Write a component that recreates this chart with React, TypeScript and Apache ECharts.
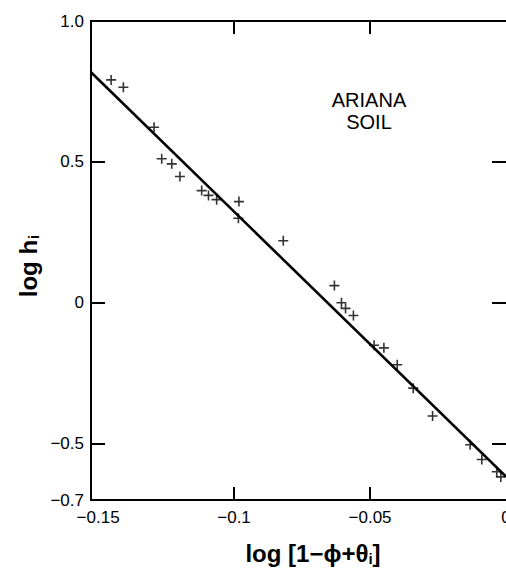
import React, { useEffect, useRef } from "react";
import * as echarts from "echarts";

const xTickLabels = [-0.15, -0.1, -0.05, 0];
const xTicks = [-0.1, -0.05];
const yTickLabels = [-0.7, -0.5, 0, 0.5, 1.0];
const yTicks = [-0.5, 0, 0.5];

const obsX = [-0.1452, -0.1407, -0.1294, -0.1266, -0.1229, -0.1199, -0.1119, -0.1094, -0.1064, -0.0982, -0.0984, -0.0819, -0.0631, -0.0605, -0.059, -0.0561, -0.0485, -0.0449, -0.04, -0.0341, -0.027, -0.0132, -0.0089, -0.0034, -0.0019];
const obsY = [0.791, 0.765, 0.623, 0.511, 0.493, 0.448, 0.398, 0.381, 0.366, 0.359, 0.3, 0.22, 0.061, 0.0, -0.02, -0.045, -0.151, -0.16, -0.22, -0.303, -0.402, -0.504, -0.556, -0.6, -0.618];

const fitX = [-0.1526, 0];
const fitY = [0.818, -0.617];

const FONT = "'Liberation Sans', Arial, sans-serif";

const fmtX = (v: number) => {
  if (Math.abs(v) < 1e-9) return "0";
  const s = Math.abs(v + 0.1) < 1e-9 ? "0.1" : Math.abs(v).toString();
  return "\u2212" + s;
};
const fmtY = (v: number) => {
  if (Math.abs(v) < 1e-9) return "0";
  if (Math.abs(v - 1) < 1e-9) return "1.0";
  return (v < 0 ? "\u2212" : "") + Math.abs(v).toString();
};

const mkX = (pos: string, showLabel: boolean) => ({
  type: "value",
  min: -0.1526,
  max: 0,
  position: pos,
  axisLine: { show: true, onZero: false, lineStyle: { color: "#000", width: 2 } },
  axisTick: { show: true, inside: true, length: 13, customValues: xTicks, lineStyle: { color: "#000", width: 2 } },
  axisLabel: showLabel
    ? { show: true, customValues: xTickLabels, formatter: fmtX, color: "#000", fontSize: 17, fontFamily: FONT, margin: 9 }
    : { show: false },
  splitLine: { show: false },
});
const mkY = (pos: string, showLabel: boolean) => ({
  type: "value",
  min: -0.7,
  max: 1.0,
  position: pos,
  axisLine: { show: showLabel, onZero: false, lineStyle: { color: "#000", width: 2 } },
  axisTick: { show: true, inside: true, length: 14, customValues: yTicks, lineStyle: { color: "#000", width: 2 } },
  axisLabel: showLabel
    ? { show: true, customValues: yTickLabels, formatter: fmtY, color: "#000", fontSize: 17, fontFamily: FONT, margin: 7 }
    : { show: false },
  splitLine: { show: false },
});

export default function App() {
  const ref = useRef<HTMLDivElement>(null);
  useEffect(() => {
    if (!ref.current) return;
    const chart = echarts.init(ref.current, null, { renderer: "svg" });
    const cross = "path://M4.2,0H5.8V4.2H10V5.8H5.8V10H4.2V5.8H0V4.2H4.2Z";
    chart.setOption({
      animation: false,
      backgroundColor: "#fff",
      grid: { left: 91, top: 21, right: 0, bottom: 68, outerBoundsMode: "none" },
      xAxis: [mkX("bottom", true), mkX("top", false)],
      yAxis: [mkY("left", true), mkY("right", false)],
      series: [
        {
          type: "line",
          data: fitX.map((x, i) => [x, fitY[i]]),
          symbol: "none",
          lineStyle: { color: "#000", width: 2.6 },
          silent: true,
        },
        {
          type: "scatter",
          data: obsX.map((x, i) => [x, obsY[i]]),
          symbol: cross,
          symbolSize: 10,
          itemStyle: { color: "#000" },
          clip: false,
        },
      ],
      graphic: [
        {
          type: "text",
          x: 369,
          y: 111,
          style: {
            text: "ARIANA\nSOIL",
            fontSize: 20,
            fontFamily: FONT,
            fill: "#000",
            align: "center",
            verticalAlign: "middle",
            lineHeight: 22,
          },
        },
        {
          type: "text",
          x: 28,
          y: 266,
          rotation: Math.PI / 2,
          style: {
            text: "{a|log h}{s|i}",
            align: "center",
            verticalAlign: "middle",
            rich: {
              a: { fontSize: 24, fontWeight: "bold", fontFamily: FONT, fill: "#000" },
              s: { fontSize: 15, fontWeight: "bold", fontFamily: FONT, fill: "#000", padding: [10, 0, 0, 1] },
            },
          },
        },
        {
          type: "text",
          x: 313,
          y: 553,
          style: {
            text: "{a|log [1\u2212\u03d5+\u03b8}{s|i}{a|]}",
            align: "center",
            verticalAlign: "middle",
            rich: {
              a: { fontSize: 24, fontWeight: "bold", fontFamily: FONT, fill: "#000" },
              s: { fontSize: 15, fontWeight: "bold", fontFamily: FONT, fill: "#000", padding: [10, 0, 0, 0] },
            },
          },
        },
      ],
    });
    return () => chart.dispose();
  }, []);
  return (
    <div
      ref={ref}
      style={{ position: "fixed", left: 0, top: 0, width: 506, height: 568, background: "#fff" }}
    />
  );
}
